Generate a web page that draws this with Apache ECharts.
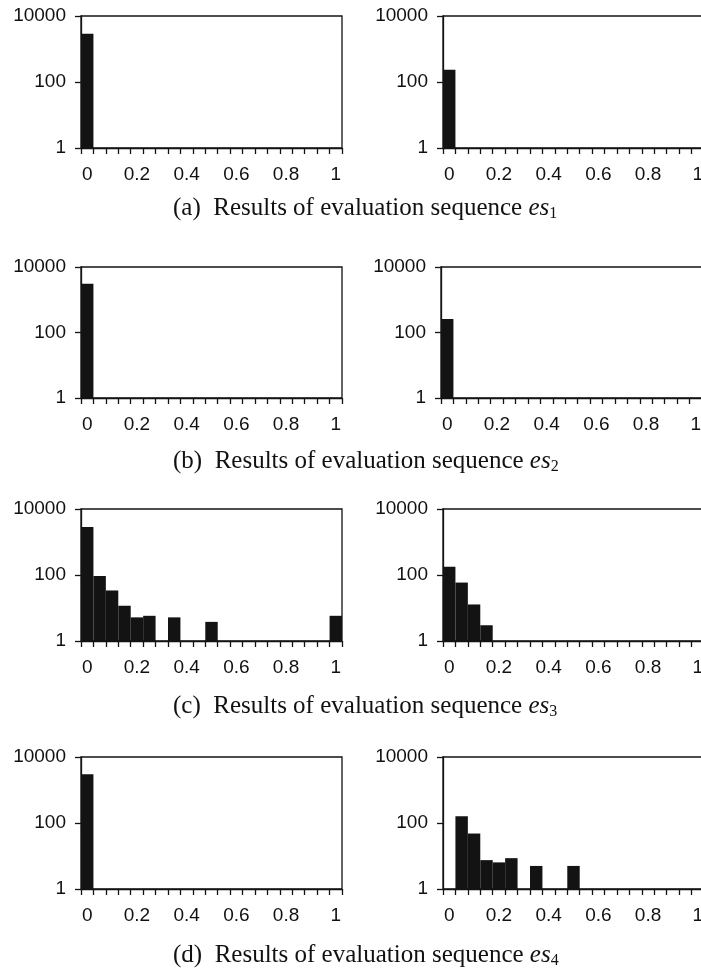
<!DOCTYPE html>
<html>
<head>
<meta charset="utf-8">
<script src="https://cdn.jsdelivr.net/npm/echarts@6/dist/echarts.min.js"></script>
<style>
  html, body { margin: 0; padding: 0; background: #fff; }
  #chart { width: 701px; height: 971px; }
</style>
</head>
<body>
<div id="chart"></div>
<script>
// bins of width 0.05, from 0 to 1
const bins = ['0', '0.05', '0.1', '0.15', '0.2', '0.25', '0.3', '0.35', '0.4', '0.45', '0.5',
  '0.55', '0.6', '0.65', '0.7', '0.75', '0.8', '0.85', '0.9', '0.95', '1']

// counts per bin (log scale), null = empty bin
const es1Left = [2900]
const es1Right = [235]
const es2Left = [3100]
const es2Right = [257]
const es3Left = [2860, 94, 34, 11.7, 5.2, 5.8, null, 5.2, null, null, 3.8,
  null, null, null, null, null, null, null, null, null, 5.8]
const es3Right = [177, 59, 12.8, 3.0]
const es4Left = [2990]
const es4Right = [null, 161, 48, 7.5, 6.4, 8.6, null, 5.0, null, null, 5.0]

const yTicks = [1, 100, 10000]

const captions = [
  { tag: '(a)', sub: '1' },
  { tag: '(b)', sub: '2' },
  { tag: '(c)', sub: '3' },
  { tag: '(d)', sub: '4' }
]

// layout of each row: plot top / height / caption middle
const rows = [
  { top: 16, height: 132, cap: 208 },
  { top: 267, height: 131, cap: 461 },
  { top: 509, height: 132, cap: 706 },
  { top: 757, height: 132, cap: 955 }
]

const panels = [
  [es1Left, es1Right],
  [es2Left, es2Right],
  [es3Left, es3Right],
  [es4Left, es4Right]
]

const ink = '#131313'
const grids = [], xAxes = [], yAxes = [], series = [], titles = []

panels.forEach((pair, r) => {
  pair.forEach((values, c) => {
    const i = grids.length
    grids.push({
      left: c === 0 ? 81 : (r === 1 ? 441 : 443),
      top: rows[r].top,
      width: 261,
      height: rows[r].height,
      outerBoundsMode: 'none',
      containLabel: false,
      show: true,
      borderColor: ink,
      borderWidth: 1.3,
      backgroundColor: 'transparent'
    })
    xAxes.push({
      type: 'category',
      gridIndex: i,
      data: bins,
      boundaryGap: true,
      axisLine: { lineStyle: { color: ink, width: 1.3 } },
      axisTick: { show: true, interval: 0, length: 6, lineStyle: { color: ink, width: 1.3 } },
      axisLabel: {
        interval: 3,
        margin: 17,
        color: '#111',
        fontFamily: 'Liberation Sans',
        fontSize: 19
      },
      splitLine: { show: false }
    })
    yAxes.push({
      type: 'log',
      gridIndex: i,
      logBase: 100,
      min: yTicks[0],
      max: yTicks[yTicks.length - 1],
      axisLine: { show: true, lineStyle: { color: ink, width: 1.3 } },
      axisTick: { show: true, length: 6, lineStyle: { color: ink, width: 1.3 } },
      axisLabel: {
        margin: 15,
        color: '#111',
        fontFamily: 'Liberation Sans',
        fontSize: 19,
        formatter: v => String(Math.round(v))
      },
      splitLine: { show: false },
      minorTick: { show: false }
    })
    series.push({
      type: 'bar',
      xAxisIndex: i,
      yAxisIndex: i,
      data: values,
      barCategoryGap: 0,
      itemStyle: { color: ink },
      silent: true,
      animation: false
    })
  })
  titles.push({
    text: '{n|' + captions[r].tag + '  Results of evaluation sequence }{i|es}{s|' + captions[r].sub + '}',
    left: 173,
    top: rows[r].cap - 13,
    padding: 0,
    textStyle: {
      fontWeight: 'normal',
      rich: {
        n: { fontFamily: 'Liberation Serif', fontSize: 25, fontWeight: 'normal', color: '#111', lineHeight: 26 },
        i: { fontFamily: 'Liberation Serif', fontSize: 25, fontWeight: 'normal', fontStyle: 'italic', color: '#111', lineHeight: 26 },
        s: { fontFamily: 'Liberation Serif', fontSize: 16, fontWeight: 'normal', color: '#111', padding: [12, 0, 0, 0], lineHeight: 26 }
      }
    }
  })
})

const chart = echarts.init(document.getElementById('chart'), null, { renderer: 'canvas' })
chart.setOption({
  animation: false,
  backgroundColor: '#fff',
  title: titles,
  grid: grids,
  xAxis: xAxes,
  yAxis: yAxes,
  series: series
})
</script>
</body>
</html>
